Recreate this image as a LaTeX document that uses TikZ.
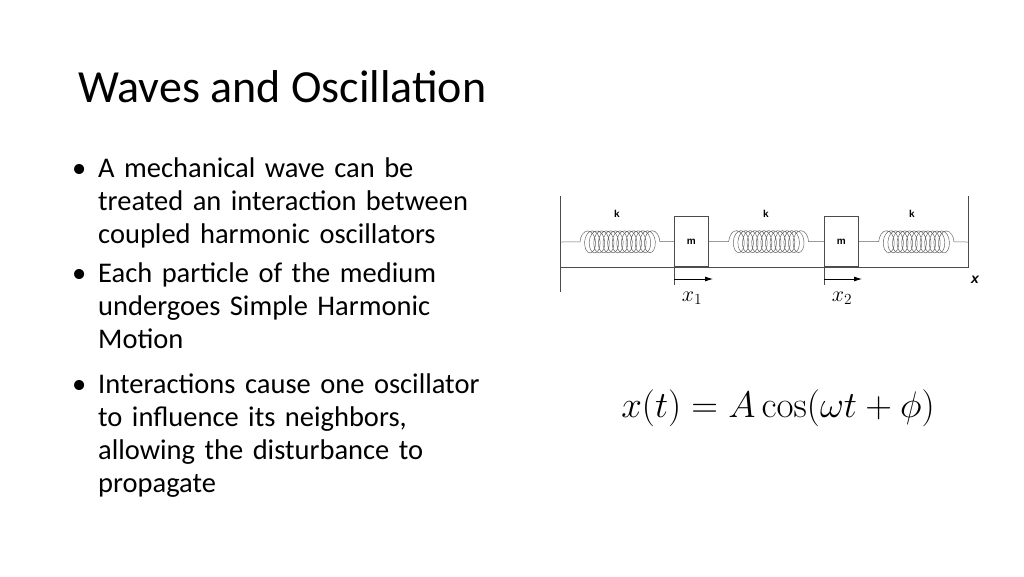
\RequirePackage{fix-cm}
\documentclass[tikz,border=0pt]{standalone}
\usepackage[no-math]{fontspec}
\setmainfont{Carlito}
\newfontfamily\sans{Liberation Sans}
\usetikzlibrary{decorations.pathmorphing,arrows.meta}
\begin{document}
\begin{tikzpicture}[x={(1pt,0)},y={(0,-1pt)},
  wire/.style={draw=black!70,line width=0.7pt},
  springc/.style={draw=black!60,line width=0.5pt,decorate,decoration={coil,aspect=0.6,segment length=4.6pt,amplitude=11pt,pre length=20pt,post length=14pt}},
  massbox/.style={draw=black!70,line width=0.7pt,minimum width=34pt,minimum height=50pt,inner sep=0pt,anchor=south west,font=\sans\bfseries\fontsize{10}{12}\selectfont},
  klab/.style={font=\sans\bfseries\fontsize{10}{12}\selectfont},
  bul/.style={anchor=north west,align=left,text width=420pt,font=\fontsize{28.5}{32.8}\selectfont,inner sep=0pt}]
\useasboundingbox (0,0) rectangle (1024,576);
\node[anchor=west,inner sep=0pt,font=\fontsize{46}{50}\selectfont] (title) at (78,87) {Waves and Oscillation};
\node[bul] (b1) at (98,158) {\llap{•\hspace{12pt}}A mechanical wave can be\\treated an interaction between\\coupled harmonic oscillators};
\node[bul] (b2) at (98,263) {\llap{•\hspace{12pt}}Each particle of the medium\\undergoes Simple Harmonic\\Motion};
\node[bul] (b3) at (98,374) {\llap{•\hspace{12pt}}Interactions cause one oscillator\\to influence its neighbors,\\allowing the disturbance to\\propagate};
% diagram
\coordinate (wl) at (560,242);
\coordinate (wr) at (968,242);
\draw[wire] (560,196) -- (560,292);
\draw[wire] (968,196) -- (968,268);
\draw[wire] (560,267) -- (968,267);
\node[massbox] (m1) at (674,267) {m};
\node[massbox] (m2) at (824,267) {m};
\draw[springc] (wl) -- (m1.west);
\draw[springc] (m1.east) -- (m2.west);
\draw[springc] (m2.east) -- (wr);
\node[klab] (k1) at (617,214) {k};
\node[klab] (k2) at (766,214) {k};
\node[klab] (k3) at (912,214) {k};
\draw[wire] (m1.south west) -- (674,285);
\draw[wire] (m2.south west) -- (824,285);
\draw[line width=0.8pt,-{Latex[length=8pt,width=5pt]}] (674,279) -- (713,279);
\draw[line width=0.8pt,-{Latex[length=8pt,width=5pt]}] (824,279) -- (862,279);
\node[font=\fontsize{22}{24}\selectfont] (x1) at (692,298) {$x_1$};
\node[font=\fontsize{22}{24}\selectfont] (x2) at (842,298) {$x_2$};
\node[font=\sans\bfseries\itshape\fontsize{14}{16}\selectfont] (xa) at (975,280) {x};
\node[font=\fontsize{37}{42}\selectfont] (eq) at (778,408) {$x(t)=A\cos(\omega t+\phi)$};
\end{tikzpicture}
\end{document}
